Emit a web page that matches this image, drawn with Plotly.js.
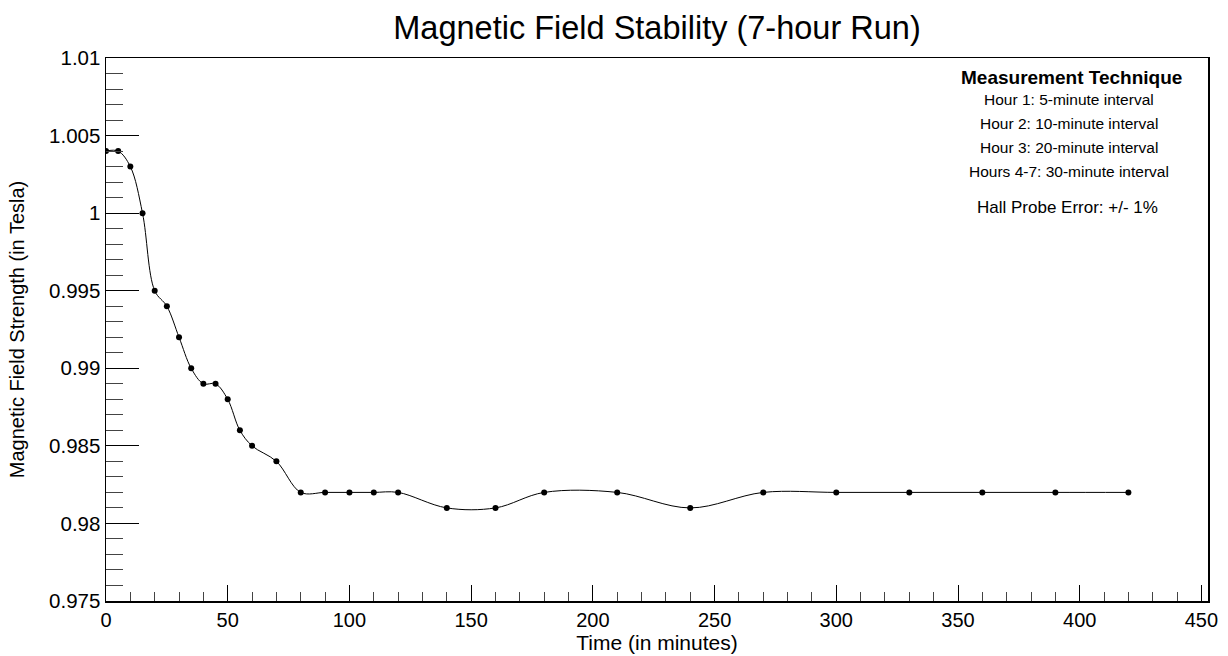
<!DOCTYPE html>
<html>
<head>
<meta charset="utf-8">
<script src="https://cdn.plot.ly/plotly-3.0.1.min.js"></script>
<style>
  html, body { margin: 0; padding: 0; background: #fff; }
  #chart { width: 1228px; height: 656px; }
</style>
</head>
<body>
<div id="chart"></div>
<script>
// Time of each measurement (minutes)
const timeMinutes = [0, 5, 10, 15, 20, 25, 30, 35, 40, 45, 50, 55, 60,
                     70, 80, 90, 100, 110, 120,
                     140, 160, 180,
                     210, 240, 270, 300, 330, 360, 390, 420];
// Magnetic field strength (Tesla)
const fieldTesla = [1.004, 1.004, 1.003, 1.000, 0.995, 0.994, 0.992, 0.990, 0.989, 0.989, 0.988, 0.986, 0.985,
                    0.984, 0.982, 0.982, 0.982, 0.982, 0.982,
                    0.981, 0.981, 0.982,
                    0.982, 0.981, 0.982, 0.982, 0.982, 0.982, 0.982, 0.982];

const yTickVals = [0.975, 0.98, 0.985, 0.99, 0.995, 1, 1.005, 1.01];
const yTickText = ['0.975', '0.98', '0.985', '0.99', '0.995', '1', '1.005', '1.01'];
const xTickVals = [0, 50, 100, 150, 200, 250, 300, 350, 400, 450];
const xTickText = ['0', '50', '100', '150', '200', '250', '300', '350', '400', '450'];

const noteHeading = 'Measurement Technique';
const noteLines = ['Hour 1: 5-minute interval', 'Hour 2: 10-minute interval',
                   'Hour 3: 20-minute interval', 'Hours 4-7: 30-minute interval'];
const noteError = 'Hall Probe Error: +/- 1%';

const FONT = '"Liberation Sans", Arial, Helvetica, sans-serif';

const trace = {
  x: timeMinutes,
  y: fieldTesla,
  type: 'scatter',
  mode: 'lines+markers',
  line: { color: '#000', width: 1, shape: 'spline', smoothing: 1 },
  marker: { color: '#000', size: 6, symbol: 'circle' },
  hoverinfo: 'x+y'
};

// plot area in px: left 106, right 1208, top 58, bottom 601
const L = 106, R = 1208, T = 58, B = 601;
function px2x(px) { return (px - L) / (R - L); }
function py2y(py) { return (B - py) / (B - T); }

const annotations = [];
annotations.push({
  text: '<b>' + noteHeading + '</b>', xref: 'paper', yref: 'paper',
  x: px2x(1071), y: py2y(77), xanchor: 'center', yanchor: 'middle',
  showarrow: false, font: { family: FONT, size: 19, color: '#000' }
});
const lineY = [99, 123, 147, 171];
noteLines.forEach((t, i) => {
  annotations.push({
    text: t, xref: 'paper', yref: 'paper',
    x: px2x(1069), y: py2y(lineY[i]), xanchor: 'center', yanchor: 'middle',
    showarrow: false, font: { family: FONT, size: 15.5, color: '#000' }
  });
});
annotations.push({
  text: noteError, xref: 'paper', yref: 'paper',
  x: px2x(1067), y: py2y(208), xanchor: 'center', yanchor: 'middle',
  showarrow: false, font: { family: FONT, size: 17, color: '#000' }
});

const layout = {
  width: 1228, height: 656,
  margin: { l: L, r: 1228 - R, t: T, b: 656 - B, pad: 0 },
  paper_bgcolor: '#fff', plot_bgcolor: '#fff',
  showlegend: false,
  font: { family: FONT, color: '#000', size: 20 },
  title: {
    text: 'Magnetic Field Stability (7-hour Run)',
    font: { family: FONT, size: 32.5, color: '#000' },
    x: 0.5, xref: 'paper', xanchor: 'center',
    y: 1 - 28 / 656, yref: 'container', yanchor: 'middle'
  },
  xaxis: {
    range: [0, 452.7],
    tickmode: 'array', tickvals: xTickVals, ticktext: xTickText,
    ticks: 'inside', ticklen: 16, tickwidth: 1, tickcolor: '#000',
    minor: { dtick: 10, tick0: 0, ticks: 'inside', ticklen: 9, tickwidth: 1, tickcolor: '#444', showgrid: false },
    showgrid: false, zeroline: false,
    showline: true, mirror: true, linecolor: '#000', linewidth: 1.5,
    tickfont: { family: FONT, size: 20, color: '#000' },
    title: { text: 'Time (in minutes)', font: { family: FONT, size: 21, color: '#000' }, standoff: 6 },
    automargin: false
  },
  yaxis: {
    range: [0.975, 1.01],
    tickmode: 'array', tickvals: yTickVals, ticktext: yTickText,
    ticks: 'inside', ticklen: 33, tickwidth: 1, tickcolor: '#000',
    minor: { dtick: 0.001, tick0: 0.975, ticks: 'inside', ticklen: 17, tickwidth: 1, tickcolor: '#444', showgrid: false },
    showgrid: false, zeroline: false,
    showline: true, mirror: true, linecolor: '#000', linewidth: 1.5,
    tickfont: { family: FONT, size: 20.5, color: '#000' },
    title: { text: 'Magnetic Field Strength (in Tesla)', font: { family: FONT, size: 20, color: '#000' }, standoff: 19 },
    automargin: false
  },
  annotations: annotations
};

Plotly.newPlot('chart', [trace], layout, { displayModeBar: false, staticPlot: true });
</script>
</body>
</html>
